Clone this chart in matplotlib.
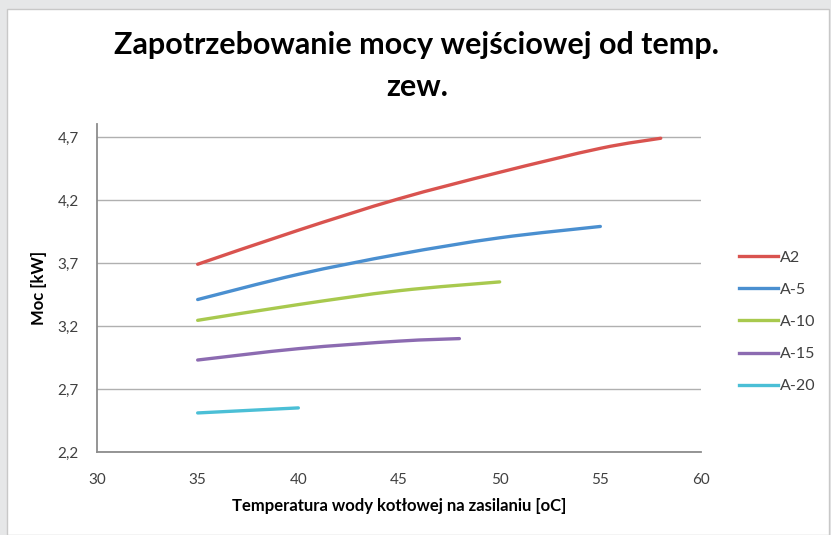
import matplotlib
matplotlib.use("Agg")
import matplotlib.pyplot as plt
from matplotlib.patches import Rectangle, PathPatch
from matplotlib.path import Path
from matplotlib.lines import Line2D
from matplotlib.ticker import FuncFormatter

plt.rcParams["font.family"] = ["Lato", "DejaVu Sans"]

# ---------------- Data ----------------
series_names = ["A2", "A-5", "A-10", "A-15", "A-20"]
series_colors = ["#d9534f", "#4a8fd0", "#a8c94e", "#8c6bb1", "#4bbfd6"]

x_a2 = [35, 40, 45, 50, 55, 58]
y_a2 = [3.69, 3.96, 4.21, 4.42, 4.61, 4.69]

x_a5 = [35, 40, 45, 50, 55]
y_a5 = [3.41, 3.61, 3.77, 3.90, 3.99]

x_a10 = [35, 40, 45, 50]
y_a10 = [3.245, 3.37, 3.48, 3.55]

x_a15 = [35, 40, 45, 48]
y_a15 = [2.93, 3.02, 3.08, 3.10]

x_a20 = [35, 40]
y_a20 = [2.51, 2.55]

xs = [x_a2, x_a5, x_a10, x_a15, x_a20]
ys = [y_a2, y_a5, y_a10, y_a15, y_a20]

x_ticks = [30, 35, 40, 45, 50, 55, 60]
y_ticks = [2.2, 2.7, 3.2, 3.7, 4.2, 4.7]


def smooth_path(xv, yv):
    # Excel-like smoothed line: cubic Bezier segments through the points
    pts = list(zip(xv, yv))
    verts = [pts[0]]
    codes = [Path.MOVETO]
    n = len(pts)
    for i in range(n - 1):
        p0 = pts[i - 1] if i > 0 else pts[i]
        p1 = pts[i]
        p2 = pts[i + 1]
        p3 = pts[i + 2] if i + 2 < n else pts[i + 1]
        c1 = (p1[0] + (p2[0] - p0[0]) / 6, p1[1] + (p2[1] - p0[1]) / 6)
        c2 = (p2[0] - (p3[0] - p1[0]) / 6, p2[1] - (p3[1] - p1[1]) / 6)
        verts += [c1, c2, p2]
        codes += [Path.CURVE4] * 3
    return Path(verts, codes)


# ---------------- Figure ----------------
W, H = 831, 535
fig = plt.figure(figsize=(W / 100, H / 100), dpi=100, facecolor="#e6e7e8")

# white chart panel (behind everything)
fig.patches.append(Rectangle((7 / W, 0), (829 - 7) / W, (H - 9) / H,
                             transform=fig.transFigure, facecolor="white",
                             edgecolor="#c8c8c8", linewidth=1, zorder=-10))

ax = fig.add_axes([97 / W, 83 / H, 604 / W, 327.6 / H])
ax.set_facecolor("none")

handles = []
for xv, yv, name, col in zip(xs, ys, series_names, series_colors):
    ax.add_patch(PathPatch(smooth_path(xv, yv), facecolor="none", edgecolor=col,
                           linewidth=2.4, capstyle="round", zorder=3))
    handles.append(Line2D([], [], color=col, linewidth=2.4, label=name))

ax.set_xlim(30, 60)
ax.set_ylim(2.2, 4.8)
ax.set_xticks(x_ticks)
ax.set_yticks(y_ticks)
ax.yaxis.set_major_formatter(FuncFormatter(lambda v, p: f"{v:.1f}".replace(".", ",")))
ax.tick_params(length=0, labelsize=11, labelcolor="#404040")
ax.tick_params(axis="y", pad=13)
ax.tick_params(axis="x", pad=15)
ax.grid(axis="y", color="#b0b0b0", linewidth=1)
ax.set_axisbelow(True)

for s in ["top", "right"]:
    ax.spines[s].set_visible(False)
for s in ["left", "bottom"]:
    ax.spines[s].set_color("#8c8c8c")
    ax.spines[s].set_linewidth(1.3)

ax.set_xlabel("Temperatura wody kotłowej na zasilaniu [oC]", fontsize=12,
              fontweight="bold", labelpad=8)
ax.set_ylabel("Moc [kW]", fontsize=12, fontweight="bold", labelpad=8)

fig.text(417 / W, 1 - 66 / H, "Zapotrzebowanie mocy wejściowej od temp.\nzew.",
         ha="center", va="center", fontsize=22, fontweight="bold",
         linespacing=1.6)

fig.legend(handles=handles, loc="upper left", bbox_to_anchor=(733 / W, 1 - 244 / H),
           frameon=False, fontsize=11.5, handlelength=2.4, handletextpad=0.15,
           labelspacing=1.13, borderaxespad=0, labelcolor="#404040")

fig.savefig("out.png", dpi=100, facecolor=fig.get_facecolor())
